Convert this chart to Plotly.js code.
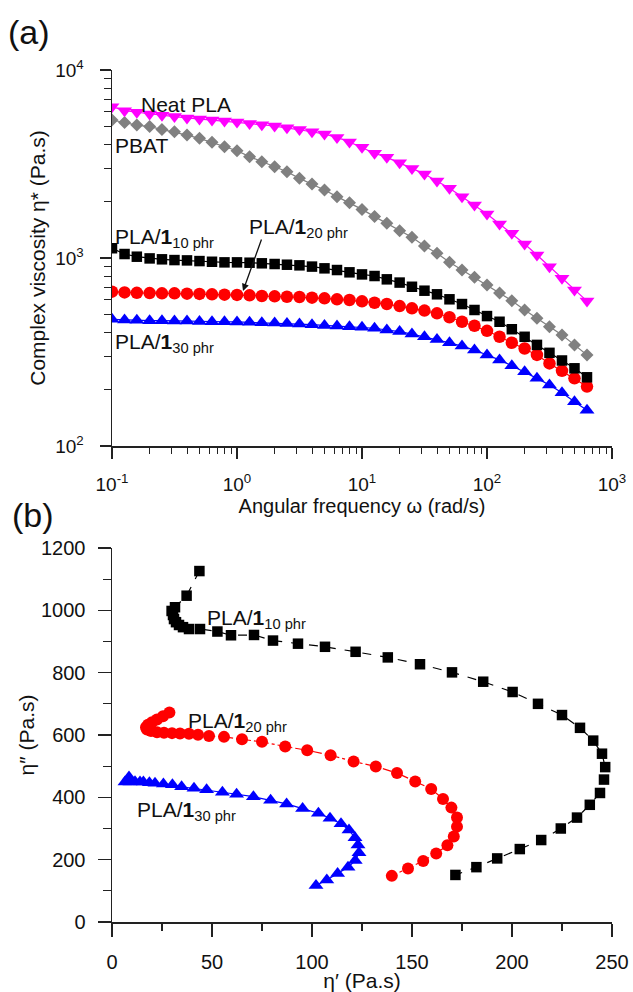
<!DOCTYPE html>
<html><head><meta charset="utf-8">
<script src="https://cdn.plot.ly/plotly-3.0.1.min.js"></script>
<style>html,body{margin:0;padding:0;background:#fff}</style>
</head><body><div id="chart" style="width:633px;height:992px"></div>
<script>
// ---------- Panel (a): complex viscosity vs angular frequency ----------
const omega = [0.1, 0.126, 0.158, 0.2, 0.251, 0.316, 0.398, 0.501, 0.631, 0.794,
  1, 1.26, 1.58, 2, 2.51, 3.16, 3.98, 5.01, 6.31, 7.94,
  10, 12.6, 15.8, 20, 25.1, 31.6, 39.8, 50.1, 63.1, 79.4,
  100, 126, 158, 200, 251, 316, 398, 501, 631];
const etaNeatPLA = [6380, 6080, 5960, 5840, 5740, 5650, 5560, 5490, 5420, 5355,
  5290, 5200, 5115, 5030, 4930, 4830, 4695, 4560, 4380, 4140,
  3880, 3606, 3430, 3212, 2997, 2797, 2569, 2350, 2120, 1914,
  1714, 1517, 1353, 1187, 1037, 899, 780, 676, 590];
const etaPBAT = [5420, 5250, 5095, 5000, 4830, 4695, 4505, 4330, 4125, 3908,
  3720, 3460, 3254, 3060, 2877, 2653, 2476, 2301, 2120, 1968,
  1814, 1660, 1529, 1397, 1288, 1158, 1060, 950, 863, 789,
  718, 652, 593, 529, 478, 431, 389, 345, 305];
const eta10 = [1127, 1050, 1016, 995, 984, 975, 971, 963, 955, 948,
  948, 944, 937, 929, 921, 914, 900, 881, 863, 839,
  818, 802, 770, 740, 703, 670, 641, 603, 569, 529,
  491, 458, 418, 381, 345, 313, 285, 259, 232];
const eta20 = [662, 656, 653, 651, 649, 649, 646, 644, 641, 638,
  636, 633, 628, 625, 622, 620, 615, 610, 603, 598,
  588, 578, 569, 555, 540, 525, 508, 484, 458, 436,
  410, 381, 354, 330, 305, 275, 251, 229, 207];
const eta30 = [472, 468, 466, 464, 464, 462, 462, 460, 458, 458,
  457, 455, 453, 451, 449, 446, 442, 438, 435, 431,
  428, 423, 414, 406, 394, 381, 369, 354, 340, 324,
  305, 287, 267, 248, 229, 211, 192, 172, 155];
const freqTickVals = [0.1, 1, 10, 100, 1000];
const freqTickText = ['10<sup>-1</sup>', '10<sup>0</sup>', '10<sup>1</sup>', '10<sup>2</sup>', '10<sup>3</sup>'];
const viscTickVals = [100, 1000, 10000];
const viscTickText = ['10<sup>2</sup>', '10<sup>3</sup>', '10<sup>4</sup>'];

// ---------- Panel (b): eta'' vs eta' ----------
const b10_etaP = [43.7, 37.3, 31.5, 29.8, 30.5, 31.0, 32.0, 33.5, 35.5, 38.5,
  44, 52.7, 59.5, 71, 80.5, 93, 106.5, 121.8, 137.9, 154,
  170, 185.6, 200.3, 213, 225, 234, 240.6, 245, 246.6, 246,
  244, 238.9, 232.5, 224.4, 214.6, 203.9, 192.6, 182.2, 171.7];
const b10_etaPP = [1126, 1047, 1010, 998, 985, 972, 962, 953, 946, 940,
  940, 932, 920, 921, 903, 893, 883, 867, 849, 827,
  801, 771, 738, 700, 664, 623, 582, 540, 497, 457,
  414, 376, 335, 300, 263, 234, 204, 176, 151];
const b20_etaP = [28.7, 25.5, 22.5, 20, 18, 17, 17.5, 19.5, 22.5, 26,
  30, 34, 38.5, 43, 48.5, 56, 65, 75, 86.6, 97.6,
  109.3, 120.8, 131.9, 142.5, 151.6, 159.6, 165.5, 169.7, 172.5, 172.5,
  170.9, 167.7, 162.1, 155.6, 148, 139.9];
const b20_etaPP = [672, 660, 650, 641, 633, 625, 618, 613, 609, 607,
  606, 605, 604, 601, 597, 594, 586, 578, 563, 551,
  535, 515, 499, 478, 451, 427, 395, 367, 335, 306,
  274, 246, 220, 196, 172, 148];
const b30_etaP = [8.5, 6.5, 9, 11.5, 14, 15.7, 18.7, 21.5, 25.7, 30.2,
  34.8, 41, 47.3, 55.2, 62.3, 70.7, 79.3, 87.3, 95.3, 103.2,
  109, 114.5, 118.5, 121.5, 123, 123.5, 121.6, 118, 112.8, 107.4, 102];
const b30_etaPP = [465, 449, 449, 450, 449, 449, 447, 445, 443, 440,
  434, 429, 424, 416, 410, 402, 391, 379, 364, 349,
  333, 315, 295, 270, 247, 222, 197, 176, 156, 135, 117];
const etaPMinorTicks = [25, 75, 125, 175, 225];
const etaPPMinorTicks = [100, 300, 500, 700, 900, 1100];

const FONT = 'Liberation Sans, Arial, sans-serif';
const C = {neat:'#ff00ff', pbat:'#808080', p10:'#000000', p20:'#ff0000', p30:'#0000ff'};

// minor tick positions for log axes (2..9 within each decade)
function logMinors(e0, e1) {
  const out = [];
  for (let e = e0; e < e1; e++) for (let d = 2; d <= 9; d++) out.push(d * Math.pow(10, e));
  return out;
}

function tr(x, y, name, color, symbol, size, xa, ya, dash) {
  return {x:x, y:y, name:name, type:'scatter', mode:'lines+markers',
    xaxis:xa, yaxis:ya,
    line:{color:color, width:1.2, dash:dash||'solid'},
    marker:{color:color, symbol:symbol, size:size, line:{width:0}},
    showlegend:false, hoverinfo:'x+y+name'};
}

const data = [
  tr(omega, etaPBAT, 'PBAT', C.pbat, 'diamond', 10, 'x', 'y'),
  tr(omega, etaNeatPLA, 'Neat PLA', C.neat, 'triangle-down', 13, 'x', 'y'),
  tr(omega, eta20, 'PLA/1 20 phr', C.p20, 'circle', 12.5, 'x', 'y'),
  tr(omega, eta30, 'PLA/1 30 phr', C.p30, 'triangle-up', 13, 'x', 'y'),
  tr(omega, eta10, 'PLA/1 10 phr', C.p10, 'square', 10.5, 'x', 'y'),
  tr(b10_etaP, b10_etaPP, 'PLA/1 10 phr', C.p10, 'square', 10.5, 'x2', 'y2', 'dash'),
  tr(b20_etaP, b20_etaPP, 'PLA/1 20 phr', C.p20, 'circle', 12, 'x2', 'y2', 'dashdot'),
  tr(b30_etaP, b30_etaPP, 'PLA/1 30 phr', C.p30, 'triangle-up', 13, 'x2', 'y2'),
  // empty traces that host the minor-tick overlay axes
  {x:[], y:[], type:'scatter', mode:'markers', xaxis:'x3', yaxis:'y3', showlegend:false, hoverinfo:'skip'},
  {x:[], y:[], type:'scatter', mode:'markers', xaxis:'x4', yaxis:'y4', showlegend:false, hoverinfo:'skip'}
];

// plot area in pixels: left 112, right 612, panel a top 70..446, panel b 548..922
const L = 112, R = 612, T = 70, B = 922;
const px = v => (v - L) / (R - L);
const py = v => (B - v) / (B - T);

const axBase = {
  showline:true, linecolor:'#222', linewidth:1.5, mirror:false,
  ticks:'outside', tickcolor:'#222', tickwidth:1.5,
  showgrid:false, zeroline:false,
  tickfont:{family:FONT, size:19, color:'#111'}
};
const minorBase = {
  showline:false, showgrid:false, zeroline:false, showticklabels:false,
  ticks:'outside', ticklen:7, tickwidth:1.2, tickcolor:'#222', tickmode:'array'
};

function ann(text, x, y, size, extra) {
  return Object.assign({text:text, xref:'paper', yref:'paper', x:px(x), y:py(y),
    xanchor:'left', yanchor:'middle', showarrow:false,
    font:{family:FONT, size:size, color:'#111'}}, extra||{});
}

const layout = {
  width:633, height:992,
  margin:{l:L, r:633-R, t:T, b:992-B},
  paper_bgcolor:'#fff', plot_bgcolor:'#fff',
  font:{family:FONT, color:'#111'},
  xaxis: Object.assign({}, axBase, {
    type:'log', range:[-1, 3], domain:[0,1], anchor:'y',
    tickmode:'array', tickvals:freqTickVals, ticktext:freqTickText,
    ticklen:11, ticklabelstandoff:10,
    title:{text:'Angular frequency \u03c9 (rad/s)', font:{family:FONT, size:20, color:'#111'}, standoff:0}
  }),
  yaxis: Object.assign({}, axBase, {
    type:'log', range:[2, 4], domain:[py(446), 1], anchor:'x',
    tickmode:'array', tickvals:viscTickVals, ticktext:viscTickText,
    ticklen:11, ticklabelstandoff:12,
    title:{text:'Complex viscosity \u03b7* (Pa.s)', font:{family:FONT, size:21, color:'#111'}, standoff:4}
  }),
  xaxis3: Object.assign({}, minorBase, {
    type:'log', range:[-1, 3], overlaying:'x', anchor:'y', side:'bottom',
    tickvals:logMinors(-1, 3), ticklen:7
  }),
  yaxis3: Object.assign({}, minorBase, {
    type:'log', range:[2, 4], overlaying:'y', anchor:'x', side:'left',
    tickvals:logMinors(2, 4), ticklen:7
  }),
  xaxis2: Object.assign({}, axBase, {
    range:[0, 250], domain:[0,1], anchor:'y2',
    dtick:50, ticklen:13, ticklabelstandoff:8,
    tickfont:{family:FONT, size:20, color:'#111'},
    title:{text:'\u03b7\u2032 (Pa.s)', font:{family:FONT, size:21, color:'#111'}, standoff:2}
  }),
  yaxis2: Object.assign({}, axBase, {
    range:[0, 1200], domain:[0, py(548)], anchor:'x2',
    dtick:200, ticklen:13, ticklabelstandoff:8,
    tickfont:{family:FONT, size:20, color:'#111'},
    title:{text:'\u03b7\u2033 (Pa.s)', font:{family:FONT, size:21, color:'#111'}, standoff:0}
  }),
  xaxis4: Object.assign({}, minorBase, {
    range:[0, 250], overlaying:'x2', anchor:'y2', side:'bottom',
    tickvals:etaPMinorTicks, ticklen:8
  }),
  yaxis4: Object.assign({}, minorBase, {
    range:[0, 1200], overlaying:'y2', anchor:'x2', side:'left',
    tickvals:etaPPMinorTicks, ticklen:8
  }),
  annotations: [
    ann('(a)', 6, 32, 34),
    ann('(b)', 10, 515, 34),
    ann('Neat PLA', 139, 104, 21),
    ann('PBAT', 113, 146, 21),
    ann('PLA/<b>1</b><sub>10 phr</sub>', 113, 238, 21),
    ann('PLA/<b>1</b><sub>20 phr</sub>', 247, 228, 21),
    ann('PLA/<b>1</b><sub>30 phr</sub>', 113, 343, 21),
    {text:'', xref:'paper', yref:'paper', x:px(243), y:py(291), ax:19, ay:-53,
     showarrow:true, arrowhead:2, arrowsize:1.1, arrowwidth:1.3, arrowcolor:'#111'},
    ann('PLA/<b>1</b><sub>10 phr</sub>', 205, 619, 21),
    ann('PLA/<b>1</b><sub>20 phr</sub>', 186, 722, 21),
    ann('PLA/<b>1</b><sub>30 phr</sub>', 135, 811, 21)
  ]
};

Plotly.newPlot('chart', data, layout, {displayModeBar:false, staticPlot:true});
</script></body></html>
